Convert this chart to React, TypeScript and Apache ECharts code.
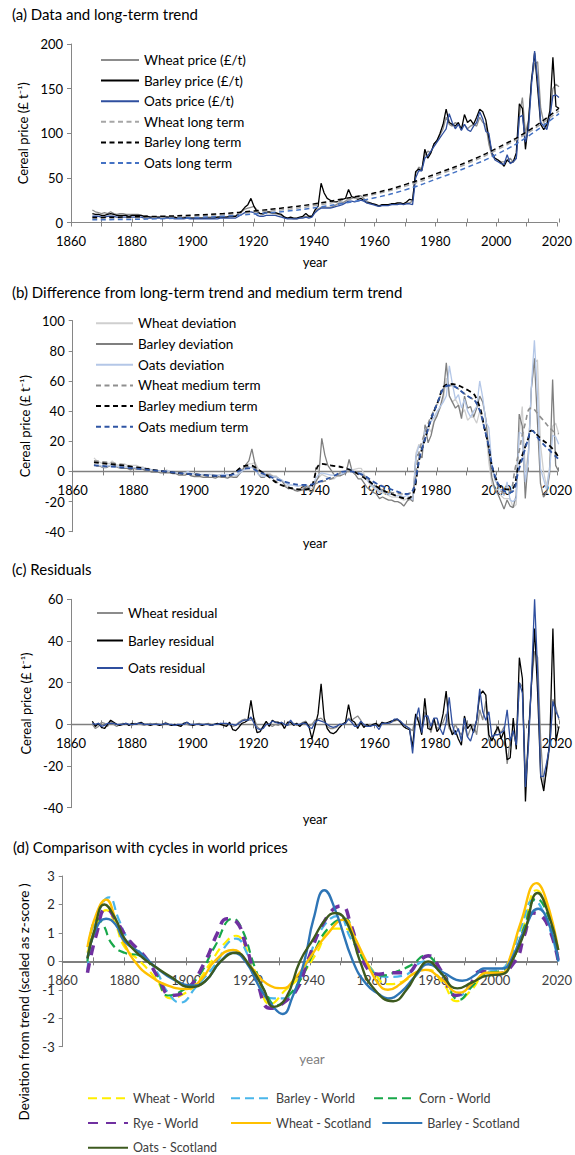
import React, { useEffect, useRef } from 'react';
import * as echarts from 'echarts';

const START_YEAR = 1867;

// Panel (a) prices, annual from 1867
const WHEAT_PRICE = [14,12,11,10,11,10,12,10,9,10, 10,9,9,9,9,9,8,7,7,6, 6,6,6,6,7,6,5,5,5,5, 6,6,5,5,5,5,5,5,6,6, 6,6,7,6,6,6,6,7,10,12, 15,16,17,18,14,10,9,11,11,10, 10,9,8,6,5,5,4,4,5,6, 7,6,7,12,15,17,17,17,17,18, 20,22,22,24,26,27,28,29,30,27, 24,22,21,20,19,20,20,20,20,21, 21,21,21,22,22,24,55,62,60,75, 80,78,88,92,98,105,118,110,108,112, 110,106,110,105,108,110,108,118,112,110, 88,75,72,70,68,68,70,72,68,72, 120,140,100,115,160,178,180,128,112,105, 120,150,155,152];
const BARLEY_PRICE = [10,9,9,8,8,9,10,9,8,8, 8,8,7,8,8,8,8,7,7,6, 6,6,6,6,6,6,6,6,5,5, 5,6,5,5,5,5,5,5,5,5, 5,6,6,6,6,7,7,7,10,13, 17,20,27,18,12,10,10,12,12,11, 11,10,9,6,5,6,5,5,6,7, 10,7,7,14,18,44,33,27,25,23, 23,24,26,27,37,29,28,26,27,25, 22,22,21,20,18,20,20,20,21,21, 22,22,21,23,26,25,57,60,58,82, 72,78,88,92,100,110,127,112,110,108, 112,104,121,112,115,110,118,127,124,115, 95,78,72,70,67,63,70,67,68,78, 133,128,82,112,160,190,150,110,104,110, 125,185,130,128];
const OATS_PRICE = [7,7,7,6,6,7,7,7,6,6, 6,6,6,6,6,6,6,5,5,5, 5,5,5,5,5,5,5,4,4,4, 4,5,4,4,4,4,4,4,4,4, 4,4,5,5,5,5,5,5,7,9, 11,12,12,11,8,7,7,8,8,8, 8,7,6,5,4,4,4,4,5,5, 6,5,6,11,14,16,16,16,16,17, 18,19,20,22,24,24,23,24,25,24, 22,21,20,19,18,19,19,19,20,20, 20,21,20,21,21,20,50,58,58,72, 75,80,85,90,95,100,105,122,112,105, 110,103,110,104,102,108,112,124,116,102, 100,78,70,68,66,65,76,66,68,72, 118,120,90,105,155,192,160,112,108,104, 118,142,143,140];

// Panel (a) long-term trends [year, value]
const WHEAT_LONG: [number, number][] = [[1867,4.5],[1880,5.2],[1890,6],[1900,7.2],[1910,8.8],[1920,11.5],[1930,14.5],[1940,19],[1950,25],[1960,32],[1970,41],[1980,53],[1990,66],[2000,82],[2010,101],[2020,125]];
const BARLEY_LONG: [number, number][] = [[1867,5.5],[1880,6.3],[1890,7],[1900,8.3],[1910,10],[1920,13],[1930,16.5],[1940,21],[1950,27],[1960,33.5],[1970,43],[1980,55],[1990,68],[2000,84],[2010,103],[2020,128]];
const OATS_LONG: [number, number][] = [[1867,3],[1880,3.5],[1890,4.3],[1900,5.4],[1910,7],[1920,9.5],[1930,12.5],[1940,16.5],[1950,22],[1960,28],[1970,37],[1980,49],[1990,62],[2000,77],[2010,97],[2020,122]];

// Panel (b) deviations, annual from 1867
const WHEAT_DEV = [9,7,6,5,6,5,7,5,4,5, 5,4,4,4,4,3,3,2,2,1, 1,0,0,0,1,-0.5,-1,-1,-1.5,-1.5, -1,-1,-2.5,-2.5,-2.5,-2.5,-3,-3,-2,-2, -2.5,-2.5,-2,-3,-3,-3.5,-4,-3,0,2, 4,5,5,6,2,-2,-3,-1,-1.5,-3, -3,-5,-6,-9,-10,-11,-12,-13,-12,-11, -10,-12,-11,-6,-4,-2,-3,-4,-5,-5, -3,-2,-2,-1,1,1,1.5,2,2,-2, -6,-9,-11,-12,-14,-14,-15,-16,-17,-17, -17,-18,-19,-18,-19,-18,12,18,14,27, 30,26,34,38,42,48,62,50,46,48, 44,38,41,34,36,36,32,40,32,28, 6,-8,-12,-12,-16,-18,-18,-18,-24,-22, 25,43,0,12,55,72,74,18,0,-10, 3,30,32,25];
const BARLEY_DEV = [4.5,3.5,3.5,2.5,2.5,3.5,4.5,3.5,2.5,2, 2,2,1,2,1.5,1.5,1.5,0.5,0.5,-0.5, -0.5,-0.5,-1,-1,-1,-1,-1.5,-1.5,-2.5,-2.5, -2.5,-1.5,-3,-3.5,-3.5,-3.5,-4,-4,-4,-4, -4.5,-3.5,-4,-4,-4.5,-3.5,-4,-4,-1.5,1, 4.5,7,15,5,-1.5,-4,-4,-2,-2.5,-3.5, -4,-5,-6.5,-10,-11.5,-11,-12.5,-13,-12.5,-12, -9.5,-13,-13.5,-7,-3.5,22,11,4,1,-2, -3,-3,-2,-1,8,0,-2,-5,-5,-8, -11,-12,-14,-15,-18,-17,-18,-19,-19,-20, -20,-21,-23,-20,-18,-20,10,12,9,31, 19,24,33,37,43,51,72,50,46,42, 44,35,50,42,43,36,42,50,46,35, 14,-4,-12,-15,-20,-25,-19,-23,-24,-16, 38,30,-18,10,55,75,33,-8,-17,-14, -2,61,4,0];
const OATS_DEV = [4,4,4,3,3,4,4,4,3,3, 3,3,2.5,2.5,2.5,2.5,2.5,1.5,1.5,1, 1,0.5,0.5,0.5,0.5,0,0,-1,-1,-1, -1,0,-1.5,-1.5,-1.5,-2,-2,-2,-2,-2.5, -2.5,-2.5,-2,-2,-2,-2.5,-2.5,-2.5,-1,0.5, 2,3,2.5,1.5,-1.5,-3,-3.5,-3,-3,-3.5, -4,-5,-6,-7.5,-9,-9,-9.5,-10,-9.5,-9.5, -9,-10.5,-9.5,-4.5,-2,-1,-1.5,-2,-2.5,-2.5, -2,-2,-1.5,0,2,1,-1,-1,-1,-3, -6,-8,-10,-11,-13,-13,-14,-15,-15,-16, -16,-16,-17,-16,-17,-19,10,17,15,28, 30,33,36,40,43,46,50,70,58,48, 51,42,48,40,36,40,43,60,49,33, 29,4,-6,-9,-13,-16,-7,-19,-20,-18, 26,25,-7,8,56,87,52,2,-5,-12, 1,24,23,18];

// Panel (b) medium-term trends [year, value]
const WHEAT_MED: [number, number][] = [[1867,7],[1875,5],[1880,3],[1890,0],[1900,-2],[1910,-3],[1918,3],[1922,0],[1930,-10],[1935,-12],[1940,-8],[1945,-5],[1950,0],[1955,-2],[1960,-10],[1965,-14],[1970,-15],[1975,20],[1980,45],[1984,57],[1990,50],[1993,45],[1996,25],[2000,-10],[2003,-15],[2006,5],[2009,32],[2011,42],[2014,36],[2018,27],[2020,25]];
const BARLEY_MED: [number, number][] = [[1867,6],[1880,3],[1890,0],[1900,-2],[1910,-3],[1918,4],[1922,0],[1930,-10],[1937,-12],[1942,5],[1945,4],[1950,2],[1955,-3],[1960,-10],[1965,-15],[1970,-18],[1975,15],[1980,45],[1984,58],[1990,54],[1993,48],[1996,25],[2000,-8],[2004,-12],[2007,5],[2010,22],[2011,27],[2014,22],[2018,15],[2020,9]];
const OATS_MED: [number, number][] = [[1867,4],[1880,2],[1890,0],[1900,-2],[1910,-3],[1918,2],[1922,-1],[1930,-7],[1937,-9],[1941,-7],[1945,-4],[1950,0],[1955,-2],[1960,-8],[1965,-12],[1970,-15],[1975,15],[1980,45],[1984,57],[1990,50],[1993,45],[1996,25],[2000,-8],[2004,-14],[2007,2],[2010,22],[2011,27],[2014,20],[2018,12],[2020,8]];

// Panel (c) residuals, annual from 1867
const WHEAT_RES = [0,-2,-1,1,0.5,-1,1.5,0,-1,0, 0.5,0,0,-0.5,0.5,0,0,-0.5,0,0.5, 0,0.5,0,-0.5,1,0,-0.5,-0.5,0,-0.5, 0.5,0,-0.5,0,0,0.5,0,0,0.5,0, 0,0,0.5,0,-0.5,0,-1,-0.5,1,2, 2.5,2,2,3,-1,-2.5,-1.5,1,0,-1, 0,-0.5,1,0,-0.5,0,0.5,-0.5,0,1, 1.5,-1,0,2,2.5,3,1.5,-1,-2,-2, -1.5,0,0,1,3,2,3,4,2,-1, -1,0,-0.5,0,-1,0.5,0.5,0,1,1.5, 2,1.5,0,-1,-2,-3,4,3,-4,6, 2,-4,2,-2,-1,1,5,-2,-4,0, -3,-5,-1,-6,-2,0,-5,7,2,11, -8,-6,-5,-2,-4,-1,-19,-8,-3,-10, 20,18,-25,-8,20,35,32,-8,-30,-22, -10,12,8,2];
const BARLEY_RES = [1.5,-1,0.5,-1.5,-2,0,2,1,0,-0.5, 0,0.5,-0.5,0.5,0,0.5,1,0,0,-0.5, 0,0,-0.5,0,0.5,0,-0.5,0,-0.5,-1, 0.5,1,0,-0.5,0,0,-0.5,0,0,-0.5, 0,0.5,0,-0.5,-1,1,-2.5,-3,-1.5,0.5, 1,2,11.5,2,-4,-3.5,-1,1.5,-1,2, 1,1,0.5,-2,1,1,-0.5,0.5,-1,0.5, 1,-1,-7,-1,5,19.5,3,-2,-4,-4.5, -3.5,-1.5,0,1,9.5,2,1,-2,1,-1.5, 0,-1,0,0.5,-1,1,0.5,1,1.5,2, 2.5,1,-1,-2,-2.5,-11,5,1,-5,12.5, -2,-2.5,3,-3.5,-1.5,5,16,0,-5,-3, -7,-10,4,-2,0,-4,2,14,16,14, -5,-8,-4,-1,-7,-3,-17,-16,3,-12, 32,22,-37,-5,20,46,15,-25,-32,-20, -8,46,-8,-1];
const OATS_RES = [0.5,0,0.5,-1,-0.5,0.5,0.5,0.5,0,0, 0,0.5,0,0,0,0.5,0.5,0,0,0, 0,0,0,0,0.5,0,0,-0.5,0,0, 0,1,0,0,0,0,0,0,0,-0.5, 0,0,0.5,0.5,0.5,0,0,-0.5,0.5,1.5, 2,2,3.5,0.5,-2,-2.5,-2,0,0,1.5, 1,0.5,1,0,-0.5,2,0,0,0,0.5, 0.5,-1.5,-2,1,2,1.5,1,0,-1,-1.5, -1,0,0,0.5,2.5,1,-1,-1,1.5,0, -1,-1,-0.5,-0.5,-2.5,0.5,0.5,0.5,1,2.5, 2.5,1.5,0,-1,-2,-14,2,8,-4,4, 4,-1,3,3,-2,-5,1,13,0,-5, -2,-8,3,-6,-8,-3,2,17,6,2, 6,-6,-5,-5,-4,-3,7,-8,-3,-10, 20,15,-30,-10,22,60,25,-25,-25,-18, -10,11,6,3];

// Panel (d) cycles (z-scores) [year, value]
const WHEAT_WORLD: [number, number][] = [[1868,0.3],[1871,1.3],[1874,1.8],[1877,1.3],[1880,0.5],[1885,0],[1890,-0.6],[1895,-1.3],[1899,-1.15],[1903,-0.8],[1908,0],[1912,0.6],[1916,0.9],[1919,0.5],[1923,-0.6],[1927,-1.5],[1932,-1.0],[1937,-0.5],[1942,0.3],[1947,1.15],[1951,1.15],[1955,0.5],[1960,-0.3],[1965,-0.8],[1970,-0.7],[1974,-0.4],[1978,-0.3],[1983,-0.8],[1987,-1.4],[1992,-1.0],[1997,-0.4],[2001,-0.4],[2005,0],[2009,1.3],[2013,2.5],[2016,2.0],[2020,0.3]];
const BARLEY_WORLD: [number, number][] = [[1868,-0.3],[1871,1.5],[1875,2.25],[1878,1.5],[1881,0.8],[1886,0.2],[1890,-0.3],[1894,-1.1],[1898,-1.45],[1903,-0.9],[1910,0],[1913,0.6],[1916,0.8],[1919,0.4],[1923,-0.8],[1928,-1.3],[1932,-1.3],[1935,-1.0],[1939,0],[1944,1.2],[1949,1.6],[1953,0.8],[1958,0],[1962,-0.5],[1965,-0.55],[1970,-0.5],[1977,0],[1982,-0.4],[1988,-1.2],[1993,-0.7],[1998,-0.35],[2001,-0.3],[2004,0],[2008,1.2],[2012,2.15],[2016,1.5],[2020,0]];
const CORN_WORLD: [number, number][] = [[1868,0],[1871,1.5],[1873,1.3],[1876,0.6],[1880,0.3],[1885,0.2],[1890,-0.4],[1894,-1.2],[1899,-1.0],[1904,-0.5],[1909,0.5],[1915,1.5],[1918,1.1],[1922,-0.2],[1926,-1.2],[1929,-1.55],[1933,-1.2],[1937,-0.6],[1941,0.3],[1946,1.2],[1951,1.5],[1954,0.9],[1958,-0.1],[1963,-0.5],[1968,-0.35],[1973,-0.1],[1977,0.2],[1980,0],[1984,-0.8],[1988,-1.35],[1992,-0.9],[1997,-0.4],[2001,-0.35],[2005,0],[2009,1.2],[2013,2.2],[2016,1.8],[2020,0.3]];
const RYE_WORLD: [number, number][] = [[1868,-0.4],[1871,1.0],[1874,1.85],[1878,1.3],[1881,0.8],[1887,0.1],[1891,-0.6],[1895,-1.2],[1900,-1.0],[1906,0],[1910,1.0],[1913,1.5],[1916,1.4],[1919,0.6],[1923,-0.8],[1927,-1.65],[1932,-1.4],[1936,-0.9],[1939,0],[1945,1.5],[1950,1.95],[1953,1.3],[1957,0],[1962,-0.45],[1966,-0.4],[1971,-0.4],[1975,0],[1978,0.2],[1982,-0.3],[1987,-1.2],[1991,-0.9],[1995,-0.35],[2000,-0.45],[2006,0],[2009,0.9],[2012,1.7],[2016,1.4],[2020,0]];
const WHEAT_SCOT: [number, number][] = [[1868,0.5],[1871,1.7],[1874,2.17],[1877,1.5],[1880,0.6],[1884,-0.1],[1888,-0.5],[1894,-0.85],[1900,-0.97],[1905,-0.6],[1909,0],[1915,0.4],[1920,-0.1],[1926,-0.8],[1931,-0.94],[1935,-0.6],[1939,0],[1945,0.9],[1951,1.47],[1954,0.9],[1958,0],[1962,-0.8],[1965,-1.0],[1969,-0.8],[1973,-0.45],[1977,-0.3],[1982,-0.6],[1988,-1.1],[1993,-0.7],[1997,-0.4],[2002,-0.4],[2004,0],[2008,1.4],[2013,2.75],[2016,2.2],[2020,0.4]];
const BARLEY_SCOT: [number, number][] = [[1868,0.1],[1871,1.2],[1874,1.5],[1877,1.3],[1880,0.7],[1885,0.3],[1890,-0.2],[1896,-0.65],[1902,-0.85],[1906,-0.7],[1911,0],[1915,0.3],[1919,0],[1924,-1.0],[1928,-1.6],[1931,-1.85],[1934,-1.3],[1938,0],[1941,1.5],[1944.5,2.5],[1948,1.8],[1953.7,0],[1958,-0.8],[1962,-1.15],[1965,-1.3],[1969,-1.1],[1974,-0.5],[1978,-0.1],[1983,-0.4],[1989,-0.68],[1993,-0.5],[1996,-0.25],[2002,-0.25],[2005,0.1],[2009,1.1],[2013.5,1.85],[2017,1.3],[2020,0]];
const OATS_SCOT: [number, number][] = [[1868,0.1],[1870,1.0],[1873.5,2.0],[1877,1.5],[1880,0.8],[1885,0.2],[1890,-0.2],[1895,-0.55],[1901,-0.9],[1906,-0.7],[1911,0],[1916,0.3],[1920,-0.1],[1925,-1.0],[1928,-1.6],[1932,-1.3],[1936.6,0],[1941,0.8],[1945,1.5],[1948,1.7],[1952,1.3],[1956,0],[1960,-0.9],[1966.7,-1.4],[1971,-1.0],[1975,-0.3],[1978,0],[1982,-0.4],[1987.4,-0.95],[1992,-0.75],[1997,-0.5],[2002,-0.45],[2005,0],[2009,1.0],[2013.4,2.4],[2017,1.6],[2020,0.4]];

const FONT = 'Lato, "Open Sans", sans-serif';

const toPairs = (arr: number[]) => arr.map((v, i) => [START_YEAR + i, v]);

// plot areas of the four panels
const PANELS = [
  { left: 71, right: 16, top: 44, height: 178.5, min: 0, max: 200, interval: 50 },
  { left: 72.7, right: 16.3, top: 320.7, height: 211, min: -40, max: 100, interval: 20 },
  { left: 71, right: 16, top: 599.3, height: 208.4, min: -40, max: 60, interval: 20 },
  { left: 62.7, right: 16.7, top: 876, height: 170.7, min: -3, max: 3, interval: 1 },
];
const AXIS_STYLE = [
  { line: '#868686', width: 1, label: '#000' },
  { line: '#7f7f7f', width: 1.3, label: '#000' },
  { line: '#7f7f7f', width: 1.3, label: '#000' },
  { line: '#7f7f7f', width: 2, label: '#404040' },
];
const zeroY = (p: any) => p.top + p.height * p.max / (p.max - p.min);

export default function App() {
  const ref = useRef<HTMLDivElement>(null);
  useEffect(() => {
    if (!ref.current) return;
    const chart = echarts.init(ref.current, undefined, { renderer: 'svg' });
    const titleStyle = { fontSize: 15, fontWeight: 'normal', fontFamily: FONT, color: '#000' };
    const legendText = { fontSize: 13.5, fontFamily: FONT, color: '#000', lineHeight: 14 };
    const noSymbol = { color: 'rgba(0,0,0,0)', borderColor: 'rgba(0,0,0,0)', borderWidth: 0, opacity: 0 };
    const dashA = [5, 3.5];
    const dashD = [9, 5];
    const cyName = 'Cereal price (£ t⁻¹)';
    const yNames = [cyName, cyName, cyName, ''];
    const yGaps = [39, 41, 39, 10];
    const yLabelColors = ['#000', '#000', '#000', '#262626'];

    const grids: any[] = [];
    const xAxes: any[] = [];
    const yAxes: any[] = [];
    // data grids 0..3
    PANELS.forEach((p, i) => {
      grids.push({ left: p.left, right: p.right, top: p.top, height: p.height });
      xAxes.push({ type: 'value', gridIndex: i, min: 1860, max: 2020, interval: 10, show: false, axisLine: { onZero: false }, splitLine: { show: false } });
      yAxes.push({
        type: 'value', gridIndex: i, min: p.min, max: p.max, interval: p.interval,
        name: yNames[i], nameLocation: 'middle', nameGap: yGaps[i],
        nameTextStyle: { fontSize: 13, fontFamily: FONT, color: '#000' },
        axisLine: { show: true, onZero: false, lineStyle: { color: '#868686' } },
        axisTick: { show: true, inside: false, length: 4, lineStyle: { color: '#868686' } },
        axisLabel: { fontSize: 13, fontFamily: FONT, color: yLabelColors[i], margin: 8 },
        splitLine: { show: false },
      });
    });
    // labelled x axes sitting on the zero line: grids 4..7
    PANELS.forEach((p, i) => {
      const gi = 4 + i;
      const s = AXIS_STYLE[i];
      grids.push({ left: p.left, right: p.right, top: p.top, height: zeroY(p) - p.top });
      xAxes.push({
        type: 'value', gridIndex: gi, min: 1860, max: 2020, interval: 10, position: 'bottom',
        axisLine: { show: true, onZero: false, lineStyle: { color: s.line, width: s.width } },
        axisTick: { show: true, inside: false, length: 4, lineStyle: { color: s.line, width: 1 } },
        axisLabel: { formatter: (v: number) => (v % 20 === 0 ? String(v) : ''), margin: 12, color: s.label, fontSize: 13, fontFamily: FONT },
        splitLine: { show: false },
      });
      yAxes.push({ type: 'value', gridIndex: gi, min: 0, max: 1, show: false, axisLine: { onZero: false }, splitLine: { show: false } });
    });
    // upward half of the crossing ticks: grids 8..11
    PANELS.forEach((p, i) => {
      const gi = 8 + i;
      const s = AXIS_STYLE[i];
      grids.push({ left: p.left, right: p.right, top: zeroY(p), height: 10 });
      xAxes.push({
        type: 'value', gridIndex: gi, min: 1860, max: 2020, interval: 10, position: 'top',
        axisLine: { show: false, onZero: false },
        axisTick: { show: true, inside: false, length: 4, lineStyle: { color: s.line, width: 1 } },
        axisLabel: { show: false },
        splitLine: { show: false },
      });
      yAxes.push({ type: 'value', gridIndex: gi, min: 0, max: 1, show: false, axisLine: { onZero: false }, splitLine: { show: false } });
    });

    const line = (name: string, idx: number, data: any[], color: string, width: number, type: any, smooth = false) => ({
      name, type: 'line', xAxisIndex: idx, yAxisIndex: idx, data, smooth,
      symbol: 'none', showSymbol: false, silent: true,
      lineStyle: { color, width, type },
      itemStyle: { color },
    });

    const option: any = {
      animation: false,
      title: [
        { text: '(a) Data and long-term trend', left: 12, top: 6, padding: 0, textStyle: titleStyle },
        { text: '(b) Difference from long-term trend and medium term trend', left: 12, top: 284, padding: 0, textStyle: titleStyle },
        { text: '(c) Residuals', left: 12, top: 561, padding: 0, textStyle: titleStyle },
        { text: '(d) Comparison with cycles in world prices', left: 13, top: 839, padding: 0, textStyle: titleStyle },
      ],
      grid: grids,
      xAxis: xAxes,
      yAxis: yAxes,
      legend: [
        {
          data: ['Wheat price (£/t)', 'Barley price (£/t)', 'Oats price (£/t)', 'Wheat long term', 'Barley long term', 'Oats long term'],
          orient: 'vertical', left: 100, top: 53, itemWidth: 38, itemHeight: 14, itemGap: 6.6,
          textStyle: legendText, selectedMode: false, padding: 0, itemStyle: noSymbol,
        },
        {
          data: ['Wheat deviation', 'Barley deviation', 'Oats deviation', 'Wheat medium term', 'Barley medium term', 'Oats medium term'],
          orient: 'vertical', left: 95, top: 316.3, itemWidth: 37, itemHeight: 14, itemGap: 6.7,
          textStyle: legendText, selectedMode: false, padding: 0, itemStyle: noSymbol,
        },
        {
          data: ['Wheat residual', 'Barley residual', 'Oats residual'],
          orient: 'vertical', left: 96, top: 606, itemWidth: 26, itemHeight: 14, itemGap: 13.5,
          textStyle: legendText, selectedMode: false, padding: 0, itemStyle: noSymbol,
        },
        {
          data: ['Wheat - World', 'Barley - World', 'Corn - World', 'Rye - World', 'Wheat - Scotland', 'Barley - Scotland', 'Oats - Scotland'],
          orient: 'horizontal', left: 87, top: 1091, width: 445, itemWidth: 40, itemHeight: 14, itemGap: 10,
          textStyle: { fontSize: 12.5, fontFamily: FONT, color: '#404040', lineHeight: 14.7, width: 87 },
          selectedMode: false, padding: 0, itemStyle: noSymbol,
        },
      ],
      graphic: [
        { type: 'text', x: 315, y: 262, style: { text: 'year', fontSize: 13, fontFamily: FONT, fill: '#000', align: 'center', verticalAlign: 'middle' } },
        { type: 'text', x: 315, y: 543, style: { text: 'year', fontSize: 13, fontFamily: FONT, fill: '#000', align: 'center', verticalAlign: 'middle' } },
        { type: 'text', x: 315, y: 819, style: { text: 'year', fontSize: 13, fontFamily: FONT, fill: '#000', align: 'center', verticalAlign: 'middle' } },
        { type: 'text', x: 312, y: 1059, style: { text: 'year', fontSize: 13.5, fontFamily: FONT, fill: '#808080', align: 'center', verticalAlign: 'middle' } },
        { type: 'text', x: 24, y: 1002, rotation: Math.PI / 2, style: { text: 'Deviation from trend (scaled as z-score )', fontSize: 13.5, fontFamily: FONT, fill: '#000', align: 'center', verticalAlign: 'middle' } },
      ],
      series: [
        line('Wheat price (£/t)', 0, toPairs(WHEAT_PRICE), '#8c8c8c', 1.3, 'solid'),
        line('Barley price (£/t)', 0, toPairs(BARLEY_PRICE), '#000000', 1.3, 'solid'),
        line('Oats price (£/t)', 0, toPairs(OATS_PRICE), '#2f4f9f', 1.3, 'solid'),
        line('Wheat long term', 0, WHEAT_LONG, '#a6a6a6', 1.5, dashA, true),
        line('Barley long term', 0, BARLEY_LONG, '#000000', 1.5, dashA, true),
        line('Oats long term', 0, OATS_LONG, '#4472c4', 1.5, dashA, true),

        line('Wheat deviation', 1, toPairs(WHEAT_DEV), '#cfcfcf', 1.3, 'solid'),
        line('Barley deviation', 1, toPairs(BARLEY_DEV), '#7f7f7f', 1.3, 'solid'),
        line('Oats deviation', 1, toPairs(OATS_DEV), '#b4c7e7', 1.3, 'solid'),
        line('Wheat medium term', 1, WHEAT_MED, '#8f8f8f', 1.6, dashA, true),
        line('Barley medium term', 1, BARLEY_MED, '#000000', 1.8, dashA, true),
        line('Oats medium term', 1, OATS_MED, '#2f55a4', 1.8, dashA, true),

        line('Wheat residual', 2, toPairs(WHEAT_RES), '#8c8c8c', 1.3, 'solid'),
        line('Barley residual', 2, toPairs(BARLEY_RES), '#000000', 1.3, 'solid'),
        line('Oats residual', 2, toPairs(OATS_RES), '#2f4f9f', 1.3, 'solid'),

        line('Wheat - World', 3, WHEAT_WORLD, '#ffee00', 2.2, dashD, true),
        line('Barley - World', 3, BARLEY_WORLD, '#4ab6ea', 2.2, dashD, true),
        line('Corn - World', 3, CORN_WORLD, '#18a84a', 2.2, dashD, true),
        line('Rye - World', 3, RYE_WORLD, '#7030a0', 3.5, [10, 8], true),
        line('Wheat - Scotland', 3, WHEAT_SCOT, '#ffc000', 2.4, 'solid', true),
        line('Barley - Scotland', 3, BARLEY_SCOT, '#2e75b6', 2.4, 'solid', true),
        line('Oats - Scotland', 3, OATS_SCOT, '#3d5a1f', 2.4, 'solid', true),
      ],
    };
    chart.setOption(option);
    return () => chart.dispose();
  }, []);
  return <div ref={ref} style={{ position: 'absolute', left: 0, top: 0, width: 575, height: 1155 }} />;
}
